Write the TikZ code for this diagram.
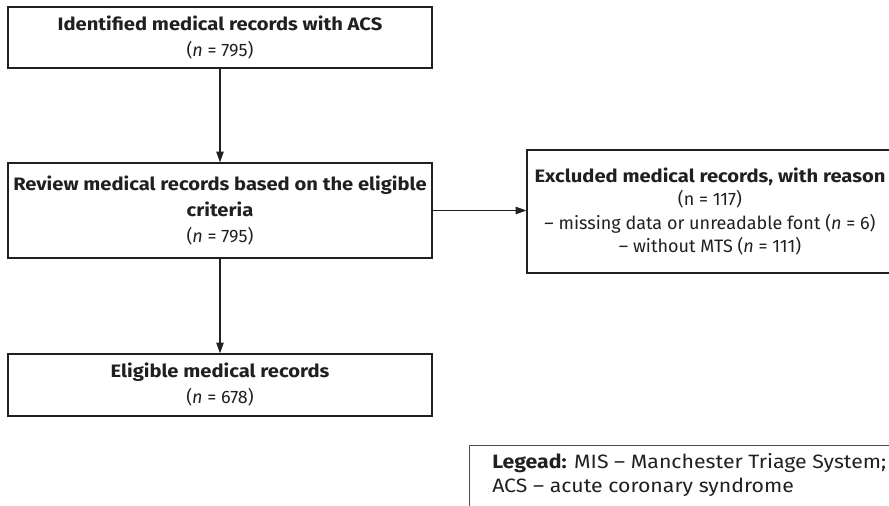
\documentclass[tikz,border=0pt]{standalone}
\usepackage{fontspec}
\setmainfont{Fira Sans}[BoldFeatures={FakeStretch=1.12}]
\newfontfamily\legfont{Fira Sans}[FakeStretch=1.1,BoldFeatures={FakeStretch=1.1}]
\usetikzlibrary{arrows.meta}
\definecolor{ink}{RGB}{35,31,32}
\begin{document}
\begin{tikzpicture}[x=0.75pt,y=-0.75pt,
  box/.style={draw=ink,line width=0.95pt,inner sep=0pt,align=center,text=ink,
    font=\fontsize{13.5}{19.5}\selectfont},
  arr/.style={draw=ink,line width=0.8pt,-{Triangle[length=8pt,width=5.5pt]}},
  legtext/.style={inner sep=0pt,align=left,text=ink,font=\legfont\fontsize{14.5}{18}\selectfont},
  legline/.style={draw=ink!80,line width=0.75pt}]
\useasboundingbox (0,0) rectangle (889,506);
\node[box,minimum width=318pt,minimum height=45.75pt] (b1) at (220,37.5)
  {\textbf{Identified medical records with ACS}\\(\textit{n} = 795)};
\node[box,minimum width=318pt,minimum height=71.25pt] (b2) at (220,210.5)
  {\textbf{Review medical records based on the eligible}\\\textbf{criteria}\\(\textit{n} = 795)};
\node[box,minimum width=318pt,minimum height=46.5pt] (b3) at (220,385)
  {\textbf{Eligible medical records}\\(\textit{n} = 678)};
\node[box,minimum width=274.5pt,minimum height=92.25pt,
  font=\fontsize{13.5}{17.5}\selectfont] (b4) at (710,211.5)
  {\textbf{Excluded medical records, with reason}\\(n = 117)\\
   – missing data or unreadable font (\textit{n} = 6)\\– without MTS (\textit{n} = 111)};
\draw[arr] (b1.south) -- (b2.north);
\draw[arr] (b2.south) -- (b3.north);
\draw[arr] (b2.east) -- (b2.east -| b4.west);
\node[legtext,anchor=base west] (leg) at (492,492)
  {\textbf{Legead:} MIS – Manchester Triage System;\\ACS – acute coronary syndrome};
\coordinate (lc) at (469,445);
\coordinate (lb) at (469,510);
\coordinate (lr) at (895,445);
\draw[legline] (lb) -- (lc) -- (lr);
\end{tikzpicture}
\end{document}
